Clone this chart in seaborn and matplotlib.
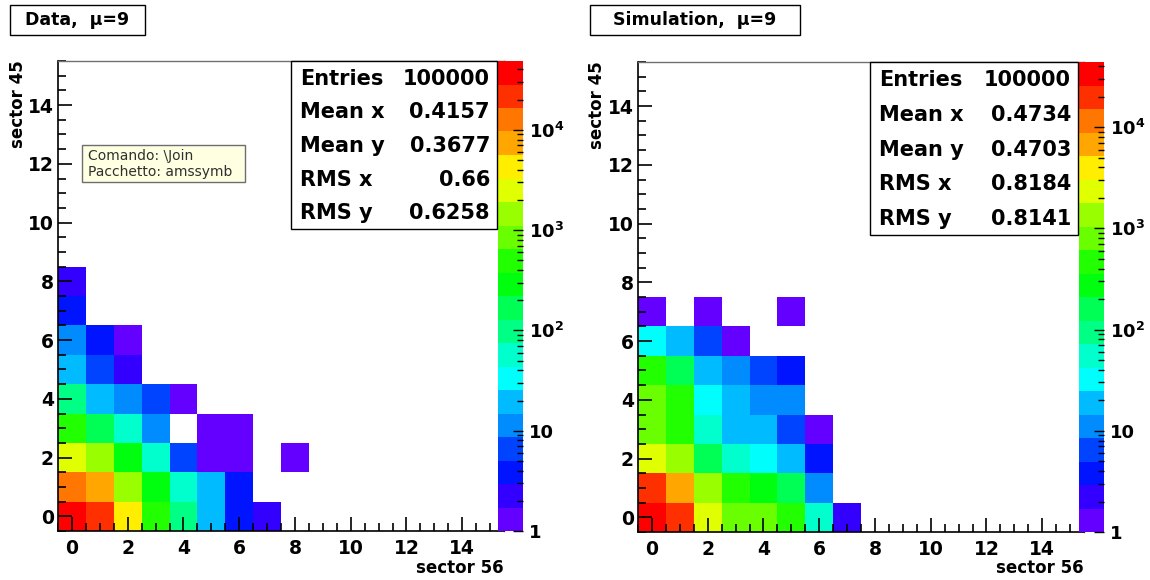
import colorsys

import numpy as np
import seaborn as sns
from matplotlib import pyplot as plt
from matplotlib.colors import ListedColormap, LogNorm
from matplotlib.patches import Rectangle
from matplotlib.ticker import FixedLocator, FuncFormatter, LogLocator, NullFormatter

FIG_W, FIG_H = 1150, 580
N_BINS = 16

# bin contents: row = sector 45 bin (0, 1, ...), column = sector 56 bin (0, 1, ...)
data_counts = [
    [48500, 19000, 4300, 500, 98, 20, 4, 2],
    [12700, 7400, 1460, 290, 57, 20, 4],
    [2500, 1460, 290, 57, 7, 1, 1, 0, 1],
    [500, 170, 57, 11, 0, 1, 1],
    [98, 20, 11, 7, 1],
    [20, 7, 2],
    [11, 4, 1],
    [4],
    [2],
]
sim_counts = [
    [44000, 21800, 2500, 850, 850, 500, 57, 2],
    [21800, 7400, 1460, 500, 290, 170, 11],
    [2500, 1460, 170, 57, 33, 20, 4],
    [850, 500, 57, 20, 20, 7, 1],
    [850, 500, 33, 20, 11, 11],
    [500, 170, 20, 11, 7, 4],
    [33, 20, 7, 1],
    [1, 0, 1, 0, 0, 1],
]

stat_labels = ["Entries", "Mean x", "Mean y", "RMS x", "RMS y"]
data_stats = ["100000", "0.4157", "0.3677", "0.66", "0.6258"]
sim_stats = ["100000", "0.4734", "0.4703", "0.8184", "0.8141"]

titles = ["Data,  \u03bc=9", "Simulation,  \u03bc=9"]
x_label = "sector 56"
y_label = "sector 45"
tooltip_lines = ["Comando: \\Join", "Pacchetto: amssymb"]

major_ticks = list(range(0, 16, 2))
cbar_ticks = [1, 10, 100, 1000, 10000]


def to_grid(rows, n=N_BINS):
    grid = np.zeros((n, n))
    for i, row in enumerate(rows):
        grid[i, : len(row)] = row
    return grid


def root_palette(n_levels=20, n_colors=50):
    """ROOT 'pretty' palette (violet -> red) sampled at 20 contour levels"""
    colors = []
    for c in range(n_levels):
        idx = int((c + 0.99) * n_colors / n_levels)
        hue = 280 - (idx + 1) * 280 / n_colors
        colors.append(colorsys.hls_to_rgb(hue / 360, 0.5, 1.0))
    return ListedColormap(colors)


def fig_rect(box):
    x0, y0, x1, y1 = box
    return [x0 / FIG_W, 1 - y1 / FIG_H, (x1 - x0) / FIG_W, (y1 - y0) / FIG_H]


def fx(x):
    return x / FIG_W


def fy(y):
    return 1 - y / FIG_H


def add_box(fig, box, face="white", edge="black", lw=1.0):
    x0, y0, x1, y1 = box
    rect = Rectangle(
        (fx(x0), fy(y1)), fx(x1) - fx(x0), fy(y0) - fy(y1),
        transform=fig.transFigure, facecolor=face, edgecolor=edge, linewidth=lw,
        zorder=5,
    )
    fig.add_artist(rect)


def cbar_label(v, _pos):
    if v < 5:
        return "1"
    if v < 50:
        return "10"
    return r"$\mathbf{10^{%d}}$" % round(np.log10(v))


def draw_panel(fig, counts, stats, title, layout):
    grid = to_grid(counts)
    ax = fig.add_axes(fig_rect(layout["frame"]))
    cax = fig.add_axes(fig_rect(layout["cbar"]))

    sns.heatmap(
        grid,
        mask=grid <= 0,
        cmap=root_palette(),
        norm=LogNorm(vmin=1, vmax=grid.max()),
        cbar=False,
        xticklabels=False,
        yticklabels=False,
        ax=ax,
    )
    ax.invert_yaxis()
    ax.set_xlim(0, N_BINS)
    ax.set_ylim(0, N_BINS)
    ax.set_axisbelow(False)

    for name, spine in ax.spines.items():
        spine.set_visible(True)
        spine.set_linewidth(1.2 if name in ("left", "bottom") else 1.0)
        spine.set_color("black" if name in ("left", "bottom") else "#707070")
        spine.set_zorder(3)

    pos = np.array(major_ticks) + 0.5
    minor = np.arange(0, N_BINS + 0.01, 0.5)
    for axis in (ax.xaxis, ax.yaxis):
        axis.set_major_locator(FixedLocator(pos))
        axis.set_minor_locator(FixedLocator(minor))
        axis.set_major_formatter(FuncFormatter(lambda v, p: str(int(round(v - 0.5)))))
    ax.tick_params(which="both", direction="in", bottom=True, left=True,
                   top=False, right=False, color="black", width=1.2,
                   labelsize=13.5, labelcolor="black")
    ax.tick_params(which="major", length=10)
    ax.tick_params(which="minor", length=5.5)
    ax.tick_params(axis="x", pad=6)
    ax.tick_params(axis="y", pad=3)

    cb = fig.colorbar(ax.collections[0], cax=cax)
    cb.outline.set_visible(False)
    cax.set_axisbelow(False)
    cax.yaxis.set_major_locator(FixedLocator(cbar_ticks))
    cax.yaxis.set_major_formatter(FuncFormatter(cbar_label))
    cax.yaxis.set_minor_locator(LogLocator(base=10, subs=range(2, 10)))
    cax.yaxis.set_minor_formatter(NullFormatter())
    cax.tick_params(which="both", direction="in", right=True, left=False,
                    color="black", width=1.0, labelsize=13, pad=4,
                    labelcolor="black")
    cax.tick_params(which="major", length=7)
    cax.tick_params(which="minor", length=4)

    # stat box
    sx0, sy0, sx1, sy1 = layout["stats"]
    add_box(fig, layout["stats"])
    row_h = (sy1 - sy0) / len(stat_labels)
    for i, (lab, val) in enumerate(zip(stat_labels, stats)):
        yc = sy0 + (i + 0.5) * row_h + 1
        fig.text(fx(sx0 + 9), fy(yc), lab, ha="left", va="center",
                 fontsize=15, fontweight="bold", color="black", zorder=6)
        fig.text(fx(sx1 - 7), fy(yc), val, ha="right", va="center",
                 fontsize=15, fontweight="bold", color="black", zorder=6)

    # title pave
    tx0, ty0, tx1, ty1 = layout["title"]
    add_box(fig, layout["title"])
    fig.text(fx((tx0 + tx1) / 2), fy((ty0 + ty1) / 2), title, ha="center",
             va="center", fontsize=12.5, fontweight="bold", color="black",
             zorder=6)

    fig.text(fx(layout["ylabel_x"]), fy(layout["frame"][1] - 1), y_label,
             rotation=90, ha="center", va="top", fontsize=12, fontweight="bold",
             color="black")
    fig.text(fx(layout["frame"][2]), fy(568), x_label, ha="right", va="center",
             fontsize=12, fontweight="bold", color="black")
    return ax


sns.set_theme(style="white")
plt.rcParams["font.family"] = ["DejaVu Sans"]
plt.rcParams["font.weight"] = "bold"
plt.rcParams["text.color"] = "black"
plt.rcParams["mathtext.fontset"] = "dejavusans"

fig = plt.figure(figsize=(FIG_W / 100, FIG_H / 100), dpi=100)

layouts = [
    dict(frame=(58, 61, 504, 531), cbar=(498, 61, 523, 531),
         stats=(291, 61, 497, 229), title=(10, 5, 145, 35), ylabel_x=18),
    dict(frame=(638, 62, 1084, 532), cbar=(1079, 62, 1104, 532),
         stats=(870, 62, 1078, 235), title=(590, 5, 800, 35), ylabel_x=597),
]

draw_panel(fig, data_counts, data_stats, titles[0], layouts[0])
draw_panel(fig, sim_counts, sim_stats, titles[1], layouts[1])

# tooltip that was captured with the screenshot
tip = (82, 145, 245, 182)
add_box(fig, tip, face="#FFFFE1", edge="#6E6E6E")
for i, line in enumerate(tooltip_lines):
    fig.text(fx(tip[0] + 6), fy(tip[1] + 11 + i * 16), line, ha="left",
             va="center", fontsize=10, fontweight="normal",
             family=["DejaVu Sans"], color="#303030", zorder=6)

fig.savefig("out.png", dpi=100)
